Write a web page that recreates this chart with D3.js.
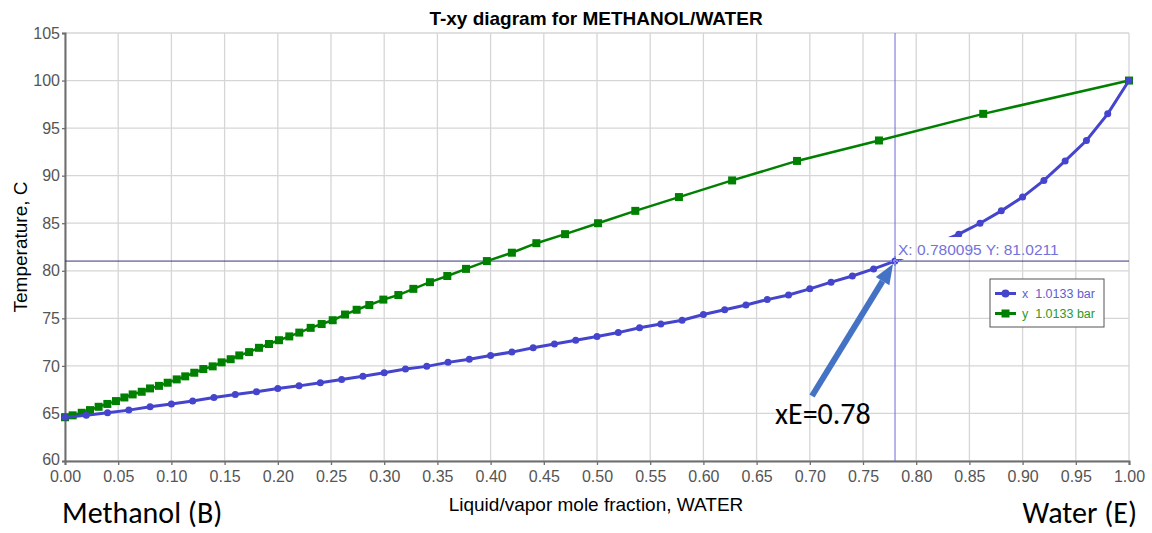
<!DOCTYPE html>
<html>
<head>
<meta charset="utf-8">
<script src="https://cdn.jsdelivr.net/npm/d3@7/dist/d3.min.js"></script>
<style>
  body { margin: 0; background: #fff; }
  svg { display: block; font-family: Arial, "Liberation Sans", sans-serif; }
</style>
</head>
<body>
<div id="chartArea"></div>
<script>
// liquid mole fraction of water (x) and the bubble/dew temperature for each point
var liquidX = [0.00, 0.02, 0.04, 0.06, 0.08, 0.10, 0.12, 0.14, 0.16, 0.18,
               0.20, 0.22, 0.24, 0.26, 0.28, 0.30, 0.32, 0.34, 0.36, 0.38,
               0.40, 0.42, 0.44, 0.46, 0.48, 0.50, 0.52, 0.54, 0.56, 0.58,
               0.60, 0.62, 0.64, 0.66, 0.68, 0.70, 0.72, 0.74, 0.76, 0.78,
               0.80, 0.82, 0.84, 0.86, 0.88, 0.90, 0.92, 0.94, 0.96, 0.98, 1.00];
var temps = [64.6, 64.8, 65.07, 65.35, 65.7, 66.0, 66.3, 66.68, 67.0, 67.28,
             67.63, 67.9, 68.23, 68.58, 68.9, 69.28, 69.67, 69.95, 70.37, 70.7,
             71.1, 71.45, 71.9, 72.3, 72.7, 73.1, 73.5, 74.0, 74.4, 74.8,
             75.4, 75.9, 76.4, 76.97, 77.45, 78.1, 78.8, 79.45, 80.2, 81.02,
             81.9, 82.9, 83.85, 85.0, 86.3, 87.75, 89.5, 91.55, 93.7, 96.5, 100.0];
// vapor mole fraction of water (y) at the same temperatures
var vaporY = [0.0, 0.0072, 0.0157, 0.0235, 0.0316, 0.0398, 0.0479, 0.0558, 0.0636, 0.0721,
              0.0799, 0.0883, 0.0965, 0.105, 0.113, 0.1215, 0.130, 0.1388, 0.1472, 0.1557,
              0.1638, 0.173, 0.1823, 0.1917, 0.2011, 0.2108, 0.2202, 0.2309, 0.2412, 0.2516,
              0.2632, 0.2741, 0.286, 0.2992, 0.3133, 0.3274, 0.343, 0.3593, 0.3769, 0.3965,
              0.42, 0.443, 0.47, 0.501, 0.536, 0.577, 0.627, 0.688, 0.765, 0.863, 1.0];

var xTicks = [0, 0.05, 0.10, 0.15, 0.20, 0.25, 0.30, 0.35, 0.40, 0.45, 0.50,
              0.55, 0.60, 0.65, 0.70, 0.75, 0.80, 0.85, 0.90, 0.95, 1.00];
var yTicks = [60, 65, 70, 75, 80, 85, 90, 95, 100, 105];
var cursor = {x: 0.780095, y: 81.0211};
var legendLabels = ["x  1.0133 bar", "y  1.0133 bar"];

var chartWidth = 1152, chartHeight = 533;
var plotLeft = 65, plotRight = 1129, plotTop = 33, plotBottom = 461;

var xScale = d3.scaleLinear().domain([0, 1]).range([plotLeft, plotRight]);
var yScale = d3.scaleLinear().domain([60, 105]).range([plotBottom, plotTop]);

var blue = "#4444cc", green = "#008000", gridColor = "#d6d6d6";

var svg = d3.select("#chartArea").append("svg")
    .attr("width", chartWidth)
    .attr("height", chartHeight);

function drawGrid(g) {
  g.selectAll(".vgrid").data(xTicks).enter().append("line")
      .attr("class", "vgrid")
      .attr("x1", function (d) { return xScale(d); })
      .attr("x2", function (d) { return xScale(d); })
      .attr("y1", plotTop).attr("y2", plotBottom)
      .style("stroke", gridColor).style("stroke-width", "1.3px");
  g.selectAll(".hgrid").data(yTicks).enter().append("line")
      .attr("class", "hgrid")
      .attr("x1", plotLeft).attr("x2", plotRight)
      .attr("y1", function (d) { return yScale(d); })
      .attr("y2", function (d) { return yScale(d); })
      .style("stroke", gridColor).style("stroke-width", "1.3px");
}

drawGrid(svg.append("g"));

// axes
var xAxis = svg.append("g")
    .attr("transform", "translate(0," + plotBottom + ")")
    .call(d3.axisBottom(xScale).tickValues(xTicks).tickFormat(d3.format(".2f")).tickSize(4).tickPadding(6));
var yAxis = svg.append("g")
    .attr("transform", "translate(" + plotLeft + ",0)")
    .call(d3.axisLeft(yScale).tickValues(yTicks).tickFormat(d3.format("d")).tickSize(3).tickPadding(2));

[xAxis, yAxis].forEach(function (ax) {
  ax.select(".domain").style("stroke", "#6e6e6e").style("stroke-width", "2px");
  ax.selectAll(".tick line").style("stroke", "#6e6e6e").style("stroke-width", "1.3px");
  ax.selectAll(".tick text").style("fill", "#555").style("font-size", "16px")
    .style("font-family", "Arial, 'Liberation Sans', sans-serif");
});
// the lowest y label sits a touch higher so it clears the x labels
yAxis.selectAll(".tick text").filter(function (d) { return d == 60; }).attr("dy", "0.2em");

// crosshair
svg.append("line")
    .attr("x1", xScale(cursor.x)).attr("x2", xScale(cursor.x))
    .attr("y1", plotTop).attr("y2", plotBottom)
    .style("stroke", "#6a6ad8").style("stroke-width", "1px");
svg.append("line")
    .attr("x1", plotLeft).attr("x2", plotRight)
    .attr("y1", yScale(cursor.y)).attr("y2", yScale(cursor.y))
    .style("stroke", "#35357a").style("stroke-width", "1px");

// series
var line = d3.line()
    .x(function (d) { return xScale(d[0]); })
    .y(function (d) { return yScale(d[1]); });

var liquidPts = liquidX.map(function (x, i) { return [x, temps[i]]; });
var vaporPts = vaporY.map(function (y, i) { return [y, temps[i]]; });

svg.append("path").datum(vaporPts)
    .attr("d", line)
    .style("fill", "none").style("stroke", green).style("stroke-width", "2.5px");
svg.append("g").selectAll("rect").data(vaporPts).enter().append("rect")
    .attr("x", function (d) { return xScale(d[0]) - 4; })
    .attr("y", function (d) { return yScale(d[1]) - 4; })
    .attr("width", 8).attr("height", 8)
    .style("fill", green);

svg.append("path").datum(liquidPts)
    .attr("d", line)
    .style("fill", "none").style("stroke", blue).style("stroke-width", "3px");
svg.append("g").selectAll("circle").data(liquidPts).enter().append("circle")
    .attr("cx", function (d) { return xScale(d[0]); })
    .attr("cy", function (d) { return yScale(d[1]); })
    .attr("r", 3.5)
    .style("fill", blue);

// crosshair label: its box hides the curve behind it, grid still shows
var cx = xScale(cursor.x), cy = yScale(cursor.y);
var labelBox = {x: cx + 1, y: cy - 24, w: 168, h: 22};
svg.append("clipPath").attr("id", "labelClip")
  .append("rect")
    .attr("x", labelBox.x).attr("y", labelBox.y)
    .attr("width", labelBox.w).attr("height", labelBox.h);
svg.append("rect")
    .attr("x", labelBox.x).attr("y", labelBox.y)
    .attr("width", labelBox.w).attr("height", labelBox.h)
    .style("fill", "#fff");
drawGrid(svg.append("g").attr("clip-path", "url(#labelClip)"));

svg.append("path")
    .attr("d", "M" + (cx - 5) + "," + cy + "H" + (cx + 5) + "M" + cx + "," + (cy - 5) + "V" + (cy + 5))
    .style("stroke", "#8888ee").style("stroke-width", "2px").style("stroke-dasharray", "2,1");
svg.append("text")
    .attr("x", cx + 3).attr("y", cy - 6)
    .style("font-size", "15.5px").style("fill", "#7272dc")
    .text("X: " + cursor.x + " Y: " + cursor.y);

// legend
var legend = svg.append("g").attr("transform", "translate(990,279)");
legend.append("rect")
    .attr("width", 114).attr("height", 48)
    .style("fill", "#fff").style("stroke", "#555").style("stroke-width", "1px");
legend.append("line").attr("x1", 5).attr("x2", 26).attr("y1", 14.5).attr("y2", 14.5)
    .style("stroke", blue).style("stroke-width", "3px");
legend.append("circle").attr("cx", 15.5).attr("cy", 14.5).attr("r", 4).style("fill", blue);
legend.append("line").attr("x1", 5).attr("x2", 26).attr("y1", 34.5).attr("y2", 34.5)
    .style("stroke", green).style("stroke-width", "3px");
legend.append("rect").attr("x", 11.5).attr("y", 30.5).attr("width", 8).attr("height", 8).style("fill", green);
legend.selectAll("text").data(legendLabels).enter().append("text")
    .attr("x", 32)
    .attr("y", function (d, i) { return 19 + i * 20; })
    .style("font-size", "12.5px")
    .style("white-space", "pre")
    .style("fill", function (d, i) { return i == 0 ? "#6060d0" : "#2a9a2a"; })
    .text(function (d) { return d; });

// titles
svg.append("text")
    .attr("x", 596).attr("y", 25)
    .attr("text-anchor", "middle")
    .style("font-size", "19px").style("font-weight", "bold")
    .text("T-xy diagram for METHANOL/WATER");
svg.append("text")
    .attr("x", 596).attr("y", 511)
    .attr("text-anchor", "middle")
    .style("font-size", "19px")
    .text("Liquid/vapor mole fraction, WATER");
svg.append("text")
    .attr("transform", "translate(27,247) rotate(-90)")
    .attr("text-anchor", "middle")
    .style("font-size", "19px")
    .text("Temperature, C");

// annotations
var bigFont = "Carlito, Lato, 'Open Sans', sans-serif";
svg.append("text")
    .attr("x", 62).attr("y", 523)
    .style("font-size", "30px").style("font-family", bigFont)
    .text("Methanol (B)");
svg.append("text")
    .attr("x", 1137).attr("y", 523)
    .attr("text-anchor", "end")
    .style("font-size", "30px").style("font-family", bigFont)
    .text("Water (E)");
svg.append("text")
    .attr("x", 775).attr("y", 424)
    .style("font-size", "30px").style("font-family", bigFont)
    .text("xE=0.78");

// arrow pointing to the cursor
var arrowStart = [812, 396], arrowTip = [cx - 2, cy + 3];
var ang = Math.atan2(arrowTip[1] - arrowStart[1], arrowTip[0] - arrowStart[0]);
var headLen = 20, headW = 8;
var baseX = arrowTip[0] - headLen * Math.cos(ang), baseY = arrowTip[1] - headLen * Math.sin(ang);
svg.append("line")
    .attr("x1", arrowStart[0]).attr("y1", arrowStart[1])
    .attr("x2", baseX).attr("y2", baseY)
    .style("stroke", "#4472c4").style("stroke-width", "6px");
svg.append("path")
    .attr("d", "M" + arrowTip[0] + "," + arrowTip[1] +
               "L" + (baseX + headW * Math.sin(ang)) + "," + (baseY - headW * Math.cos(ang)) +
               "L" + (baseX - headW * Math.sin(ang)) + "," + (baseY + headW * Math.cos(ang)) + "Z")
    .style("fill", "#4472c4");
</script>
</body>
</html>
